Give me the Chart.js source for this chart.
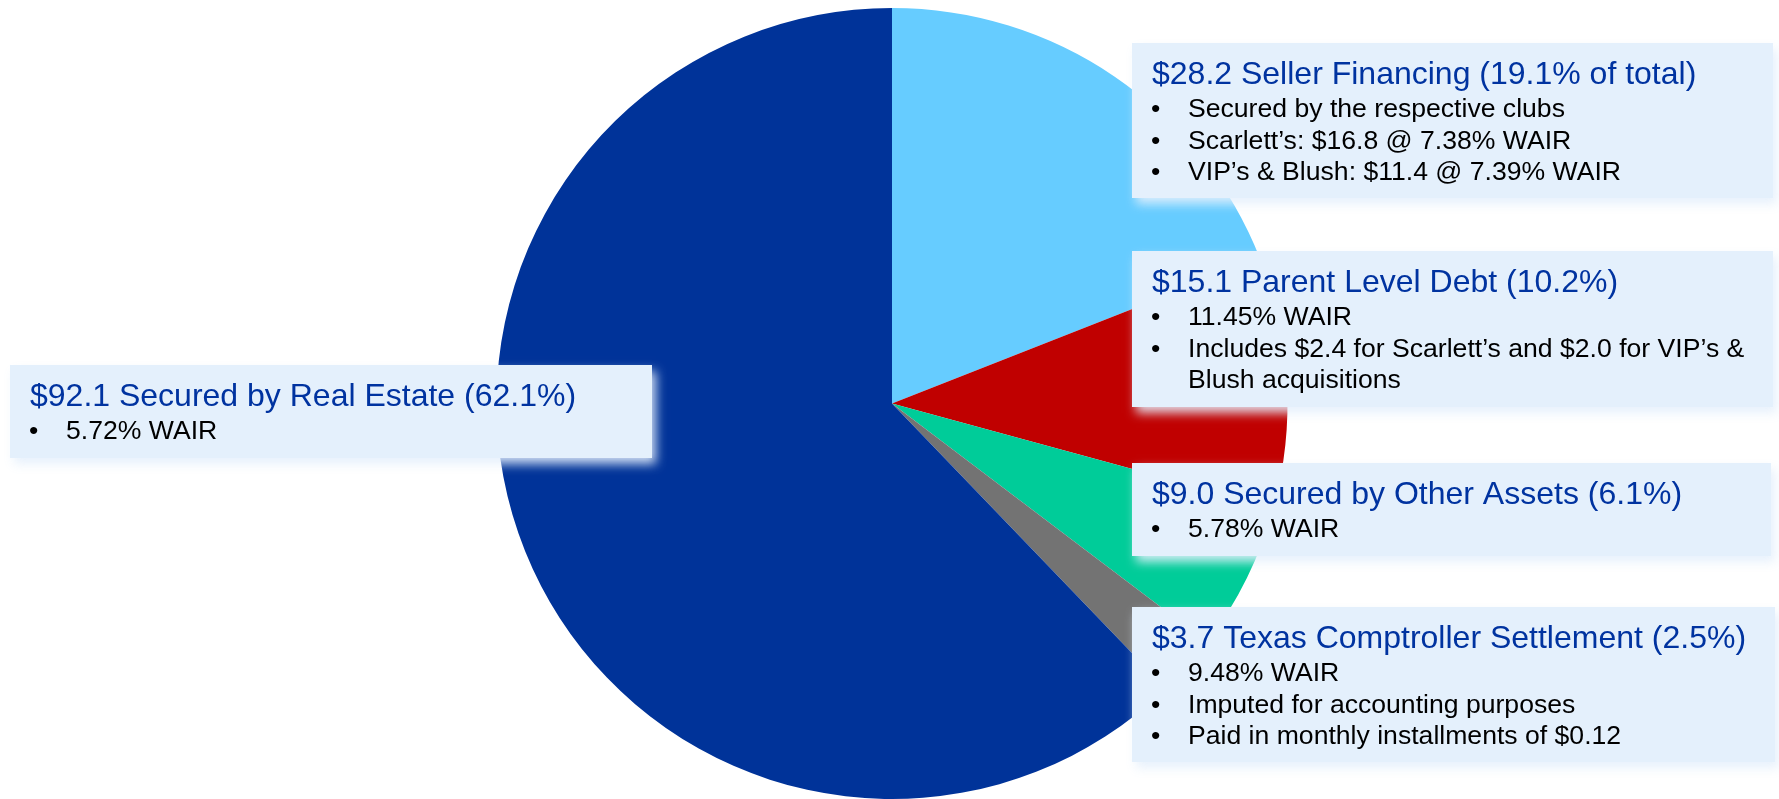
<!DOCTYPE html>
<html>
<head>
<meta charset="utf-8">
<script src="https://cdn.jsdelivr.net/npm/chart.js@4.4.0/dist/chart.umd.min.js"></script>
<style>
  html, body { margin: 0; padding: 0; background: #fff; overflow: hidden; }
  #debtChart { display: block; }
</style>
</head>
<body>
<canvas id="debtChart" width="1779" height="799"></canvas>
<script>
// debt breakdown, $ millions, in clockwise order from 12 o'clock
const categories = ['Seller Financing', 'Parent Level Debt', 'Secured by Other Assets', 'Texas Comptroller Settlement', 'Secured by Real Estate'];
const amounts = [28.2, 15.1, 9.0, 3.7, 92.1];
const pctLabels = ['19.1% of total', '10.2%', '6.1%', '2.5%', '62.1%'];
const sliceColors = ['#66CCFF', '#C00000', '#00CC99', '#737373', '#003399'];

// bullet text per slice (inner arrays = one bullet wrapped on several lines)
const bullets = [
  [['Secured by the respective clubs'], ['Scarlett’s: $16.8 @ 7.38% WAIR'], ['VIP’s & Blush: $11.4 @ 7.39% WAIR']],
  [['11.45% WAIR'], ['Includes $2.4 for Scarlett’s and $2.0 for VIP’s &', 'Blush acquisitions']],
  [['5.78% WAIR']],
  [['9.48% WAIR'], ['Imputed for accounting purposes'], ['Paid in monthly installments of $0.12']],
  [['5.72% WAIR']]
];

// callout boxes: x, y, w, h
const boxes = [
  [1132, 43, 641, 155],
  [1132, 251, 641, 156],
  [1132, 463, 639, 93],
  [1132, 607, 643, 155],
  [10, 365, 642, 93]
];

const calloutPlugin = {
  id: 'callouts',
  afterDraw(chart) {
    const ctx = chart.ctx;
    boxes.forEach((b, i) => {
      const [x, y, w, h] = b;
      ctx.save();
      ctx.shadowColor = 'rgba(228,240,252,0.9)';
      ctx.shadowBlur = 10;
      ctx.shadowOffsetX = 4;
      ctx.shadowOffsetY = 6;
      ctx.fillStyle = '#E4F0FC';
      ctx.fillRect(x, y, w, h);
      ctx.restore();

      ctx.save();
      ctx.textBaseline = 'alphabetic';
      ctx.textAlign = 'left';
      ctx.fillStyle = '#0033A0';
      ctx.font = '32px "Liberation Sans", Arial, sans-serif';
      const title = '$' + amounts[i].toFixed(1) + ' ' + categories[i] + ' (' + pctLabels[i] + ')';
      ctx.fillText(title, x + 20, y + 41);

      ctx.fillStyle = '#000';
      ctx.font = '26.6px "Liberation Sans", Arial, sans-serif';
      let ly = y + 74;
      bullets[i].forEach(lines => {
        ctx.fillText('•', x + 19, ly);
        lines.forEach(line => {
          ctx.fillText(line, x + 56, ly);
          ly += 31.5;
        });
      });
      ctx.restore();
    });
  }
};

const ctx = document.getElementById('debtChart').getContext('2d');
new Chart(ctx, {
  type: 'pie',
  data: {
    labels: categories,
    datasets: [{
      data: amounts,
      backgroundColor: sliceColors,
      borderWidth: 0,
      hoverOffset: 0
    }]
  },
  options: {
    responsive: false,
    animation: false,
    layout: { padding: { left: 5, right: 0, top: 8, bottom: 0 } },
    plugins: {
      legend: { display: false },
      tooltip: { enabled: false }
    }
  },
  plugins: [calloutPlugin]
});
</script>
</body>
</html>
